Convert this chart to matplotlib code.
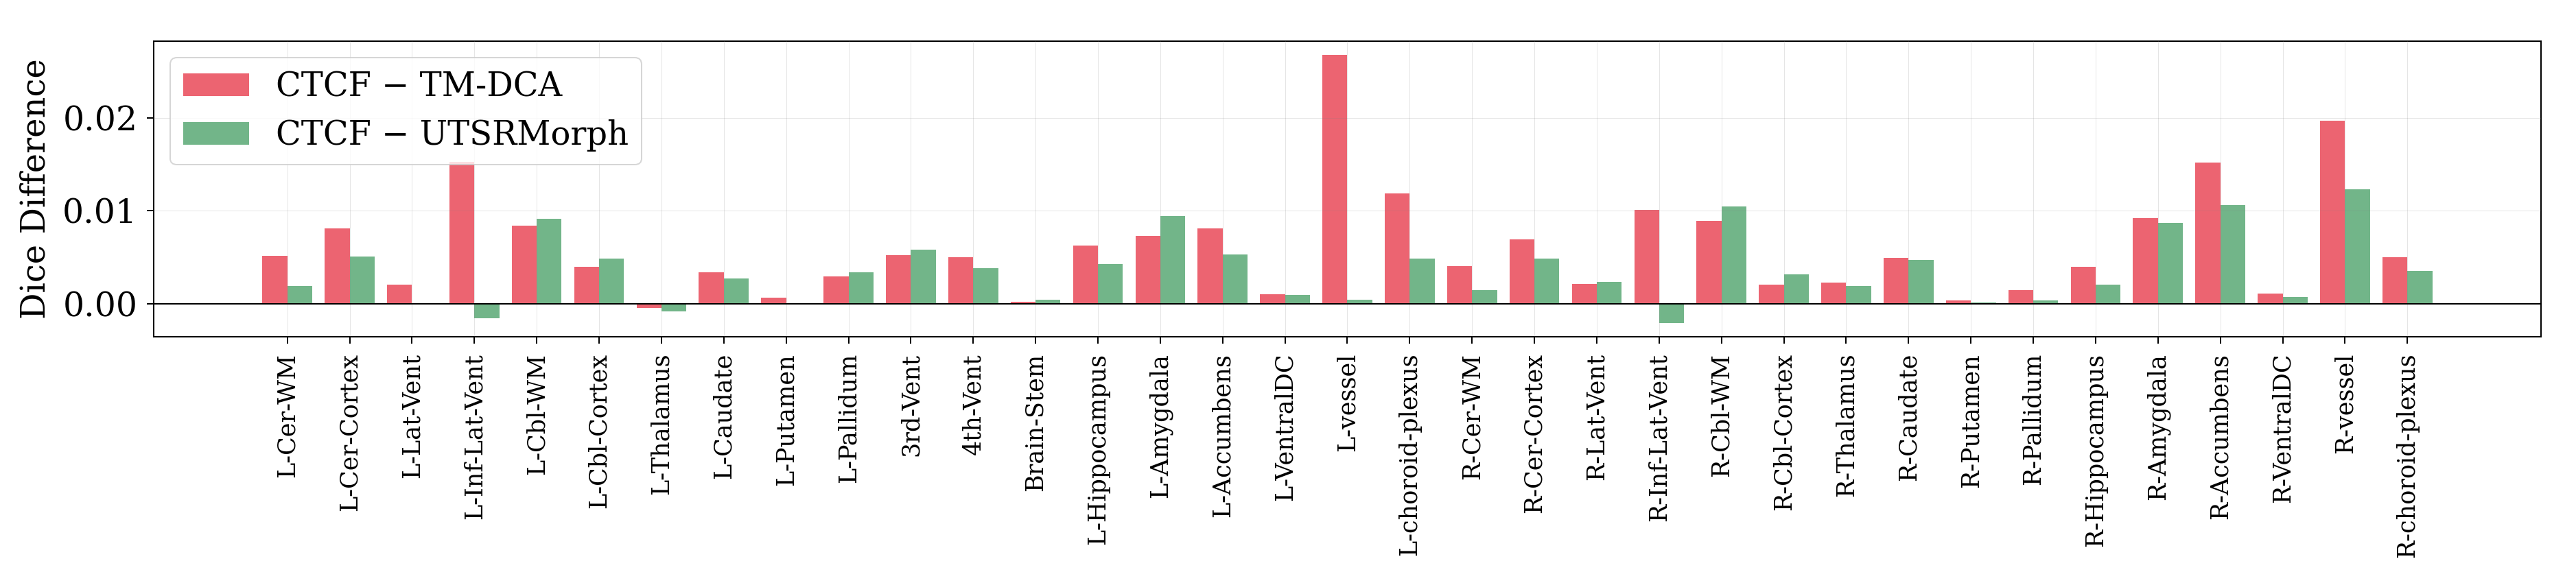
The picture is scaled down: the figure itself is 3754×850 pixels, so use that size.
import numpy as np
import matplotlib
matplotlib.use("Agg")
import matplotlib.pyplot as plt

# structure labels
labels = ["L-Cer-WM", "L-Cer-Cortex", "L-Lat-Vent", "L-Inf-Lat-Vent", "L-Cbl-WM",
          "L-Cbl-Cortex", "L-Thalamus", "L-Caudate", "L-Putamen", "L-Pallidum",
          "3rd-Vent", "4th-Vent", "Brain-Stem", "L-Hippocampus", "L-Amygdala",
          "L-Accumbens", "L-VentralDC", "L-vessel", "L-choroid-plexus",
          "R-Cer-WM", "R-Cer-Cortex", "R-Lat-Vent", "R-Inf-Lat-Vent", "R-Cbl-WM",
          "R-Cbl-Cortex", "R-Thalamus", "R-Caudate", "R-Putamen", "R-Pallidum",
          "R-Hippocampus", "R-Amygdala", "R-Accumbens", "R-VentralDC", "R-vessel",
          "R-choroid-plexus"]

# CTCF - TM-DCA
diff_tmdca = [0.00515, 0.0081, 0.00204, 0.0153, 0.0084,
              0.00397, -0.00047, 0.00337, 0.00064, 0.00293,
              0.00522, 0.0050, 0.0002, 0.00626, 0.00729,
              0.0081, 0.00101, 0.0268, 0.01187,
              0.00404, 0.00692, 0.00212, 0.0101, 0.00892,
              0.00204, 0.00227, 0.00493, 0.00034, 0.00145,
              0.00397, 0.00921, 0.0152, 0.00108, 0.0197,
              0.0050]

# CTCF - UTSRMorph
diff_utsr = [0.0019, 0.00507, 0.0, -0.00158, 0.00914,
             0.00485, -0.00084, 0.00271, 0.0, 0.00337,
             0.00581, 0.00382, 0.00042, 0.00426, 0.00943,
             0.0053, 0.00094, 0.00042, 0.00485,
             0.00145, 0.00485, 0.00234, -0.00209, 0.01047,
             0.00315, 0.0019, 0.0047, 0.00012, 0.00034,
             0.00204, 0.00869, 0.01062, 0.00071, 0.01232,
             0.00352]

px = 0.72  # points per pixel at dpi 100

plt.rcParams['font.family'] = ['DejaVu Serif']

fig = plt.figure(figsize=(37.55, 8.5), dpi=100)
ax = fig.add_axes([0.0597, 0.4224, 0.9264, 0.507])

x = np.arange(len(labels))
w = 0.4
ax.bar(x - w / 2, diff_tmdca, w, color='#EC6471', label='CTCF − TM-DCA')
ax.bar(x + w / 2, diff_utsr, w, color='#72B589', label='CTCF − UTSRMorph')
ax.axhline(0, color='black', linewidth=2 * px, zorder=3)

ax.set_xticks(x)
ax.set_xticklabels(labels, rotation=90, fontsize=35 * px)
ax.set_yticks([0.0, 0.01, 0.02])
ax.set_yticklabels(['0.00', '0.01', '0.02'], fontsize=49 * px)
ax.tick_params(axis='both', length=10 * px, width=2 * px, pad=10)
ax.set_ylabel('Dice Difference', fontsize=48 * px, labelpad=11)

ax.set_axisbelow(False)
ax.grid(True, color='gray', alpha=0.2, linewidth=1 * px)

for s in ax.spines.values():
    s.set_linewidth(2 * px)

leg = ax.legend(loc='upper left', fontsize=48 * px)
leg.get_frame().set_linewidth(2 * px)

fig.savefig('out.png', dpi=100)
